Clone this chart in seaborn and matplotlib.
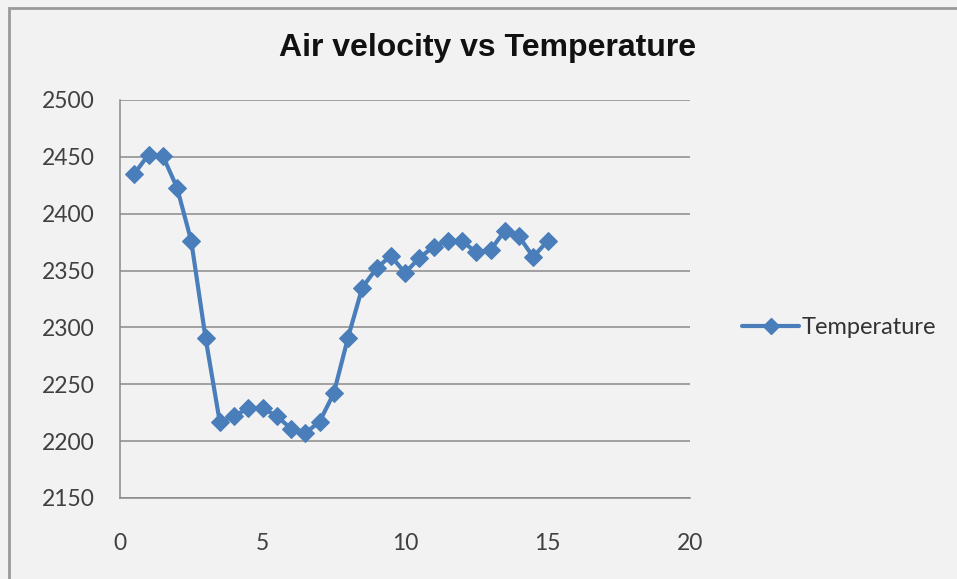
import matplotlib
matplotlib.use("Agg")
import matplotlib.pyplot as plt
import seaborn as sns
import pandas as pd
from matplotlib.patches import Rectangle
from matplotlib.lines import Line2D

air_velocity = [0.5, 1, 1.5, 2, 2.5, 3, 3.5, 4, 4.5, 5, 5.5, 6, 6.5, 7, 7.5,
                8, 8.5, 9, 9.5, 10, 10.5, 11, 11.5, 12, 12.5, 13, 13.5, 14, 14.5, 15]
temperature = [2435, 2452, 2451, 2423, 2376, 2291, 2217, 2222, 2229, 2229, 2222, 2211, 2207, 2217, 2242,
               2291, 2335, 2352, 2363, 2348, 2361, 2371, 2376, 2376, 2366, 2368, 2385, 2380, 2362, 2376]
x_ticks = [0, 5, 10, 15, 20]
y_ticks = [2150, 2200, 2250, 2300, 2350, 2400, 2450, 2500]
series_name = "Temperature"
title = "Air velocity vs Temperature"

df = pd.DataFrame({"x": air_velocity, "y": temperature})

sns.set_style("white")
plt.rcParams["font.family"] = ["Lato", "DejaVu Sans"]

bg = "#f2f2f2"
blue = "#4a7ebb"
fig = plt.figure(figsize=(9.57, 5.79), dpi=100, facecolor=bg)
ax = fig.add_axes([120/957, 81/579, 570/957, 398/579])
ax.set_facecolor(bg)

sns.lineplot(data=df, x="x", y="y", ax=ax, color=blue, linewidth=3,
             marker="D", markersize=9, markeredgecolor=blue, legend=False)

ax.set_xlim(0, 20)
ax.set_ylim(2150, 2500)
ax.set_xticks(x_ticks)
ax.set_yticks(y_ticks)
ax.set_xlabel("")
ax.set_ylabel("")
ax.yaxis.grid(True, color="#8a8a8a", linewidth=1.1)
ax.xaxis.grid(False)
for s in ["top", "right"]:
    ax.spines[s].set_visible(False)
for s in ["left", "bottom"]:
    ax.spines[s].set_color("#8a8a8a")
    ax.spines[s].set_linewidth(1.1)
ax.tick_params(axis="both", which="major", direction="out", length=6, width=1,
               color="#8a8a8a", labelsize=16.5, labelcolor="#404040")
ax.tick_params(axis="x", pad=19)
ax.tick_params(axis="y", pad=12)

fig.text(488/957, 1 - 48/579, title, ha="center", va="center", fontsize=23,
         fontweight="bold", family=["Liberation Sans", "DejaVu Sans"], color="#111111")

handle = Line2D([], [], color=blue, linewidth=3, marker="D", markersize=8)
fig.legend([handle], [series_name], loc="center left",
           bbox_to_anchor=(721/957, 1 - 328/579), frameon=False, fontsize=17,
           handlelength=2.4, handletextpad=0.1, labelcolor="#333333")

fig.patches.append(Rectangle((9/957, -0.01), 1.0, 1 - 8/579 + 0.01, transform=fig.transFigure,
                             fill=False, edgecolor="#9a9a9a", linewidth=2))

fig.savefig("out.png", dpi=100, facecolor=bg)
